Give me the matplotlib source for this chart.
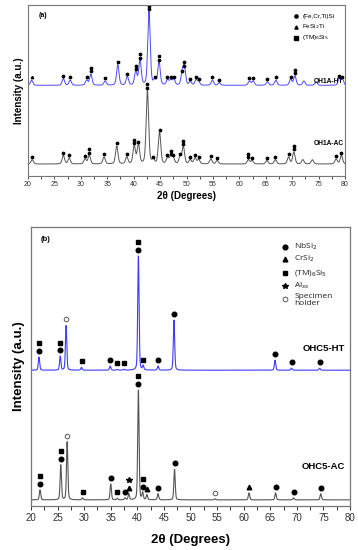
import numpy as np
import matplotlib
matplotlib.use('Agg')
import matplotlib.pyplot as plt
from matplotlib.ticker import MultipleLocator

plt.rcParams['font.family'] = ['Liberation Sans', 'DejaVu Sans']

# ---- panel (a): OH1A, peak positions (deg), heights above baseline, phase markers
a_ht_pos = [20.7, 26.7, 28.0, 31.1, 31.9, 34.6, 37.0, 38.8, 40.4, 41.2, 42.9, 44.0, 44.8,
            46.4, 47.0, 47.6, 49.2, 49.6, 50.7, 51.8, 52.3, 54.9, 56.2, 61.9, 62.6,
            65.3, 66.9, 69.7, 70.5, 72.2, 74.5, 78.9, 79.5]
a_ht_h = [3, 4, 3, 3, 6.5, 2.5, 12, 5, 8, 14.5, 43, 3, 13.5,
          3, 3, 3.5, 7, 10, 2, 3, 2, 3, 1.5, 2.5, 2.5,
          2, 3, 3.5, 5.5, 2.5, 2, 4, 3.5]
a_ht_mk = ['t', 'c', 'c', 'c', 'cc', 'c', 'c', 'c', 'cc', 'cc', 'cc', 'c', 'cs',
           'c', 'c', 'c', 'c', 'cc', 'c', 'c', 'c', 'c', 'c', 'c', 'c',
           'c', 'c', 'c', 'cc', '', '', 'c', 'c']
a_ht_base = 53.0

a_ac_pos = [20.8, 26.7, 27.8, 30.8, 31.6, 34.4, 36.8, 38.7, 40.1, 40.9, 42.6, 43.7, 44.9,
            46.4, 47.0, 47.5, 48.8, 49.4, 50.7, 51.6, 52.3, 54.6, 55.8, 61.7, 62.4,
            65.2, 66.8, 69.3, 70.3, 72.0, 73.8, 78.3, 79.3]
a_ac_h = [2.5, 5, 3.5, 3, 5, 4, 10.5, 4, 10.5, 11.5, 43, 2.5, 18.5,
          3.5, 4, 3.5, 4.5, 10, 2.5, 3.5, 2.5, 3, 2, 2.5, 2,
          2, 2.5, 4, 7, 2.5, 2.5, 3, 5]
a_ac_mk = ['c', 'c', 'c', 'c', 'cc', 'c', 'c', 'c', 'cc', 'c', 'cc', 'c', 'c',
           'c', 'cc', 'c', 'c', 'cc', 'c', 'c', 'c', 'c', 'c', 'cc', 'c',
           'c', 'c', 'c', 'cc', '', '', 'c', 'c']
a_ac_base = 7.0

# ---- panel (b): OHC5
b_ht_pos = [21.5, 25.5, 26.6, 29.5, 34.9, 36.2, 37.5, 40.2, 41.1, 43.9, 46.9, 65.9, 69.0, 74.3]
b_ht_h = [4.7, 5.0, 16, 1.0, 1.5, 0.3, 0.3, 41, 1.5, 1.5, 18, 3.6, 0.7, 0.7]
b_ht_mk = ['cs', 'cs', 'o', 's', 'c', 's', 's', 'cs', 's', 'c', 'c', 'c', 'c', 'c']
b_ht_base = 48.7

b_ac_pos = [21.7, 25.6, 26.8, 29.7, 35.0, 36.2, 37.7, 38.4, 40.2, 41.0, 41.8, 43.9, 47.0,
            54.6, 61.0, 66.0, 69.4, 74.5]
b_ac_h = [3.6, 12.5, 20.8, 0.7, 5.7, 0.5, 0.7, 2.2, 39.4, 2.5, 1.8, 2.2, 11,
          0.4, 2.5, 2.5, 0.7, 2.2]
b_ac_mk = ['cs', 'cs', 'o', 's', 'c', 's', 'c', 't*', 'cs', 'cs', 't', 'c', 'c',
           'o', 't', 'c', 'c', 'c']
b_ac_base = 2.2

tt = np.linspace(20, 80, 3000)


def pattern(pos, h, fwhm, base):
    y = np.full_like(tt, base)
    for p, a in zip(pos, h):
        g = np.exp(-4 * np.log(2) * ((tt - p) / fwhm) ** 2)
        l = 1 / (1 + 4 * ((tt - p) / fwhm) ** 2)
        y += a * (0.7 * g + 0.3 * l)
    return y


symbols = {'c': dict(marker='o', mfc='k', mec='k'),
           't': dict(marker='^', mfc='k', mec='k'),
           's': dict(marker='s', mfc='k', mec='k'),
           'o': dict(marker='o', mfc='white', mec='#555555', mew=0.7),
           '*': dict(marker='*', mfc='k', mec='k')}


def add_markers(ax, pos, h, mk, base, gap, step, ms):
    for p, a, code in zip(pos, h, mk):
        for i, c in enumerate(code):
            st = dict(symbols[c])
            s = ms * 1.3 if c == '*' else ms
            ax.plot(p, base + a + gap + i * step, ls='none', ms=s, **st)


fig = plt.figure(figsize=(3.58, 5.5), dpi=100)

# ================= panel (a)
ax1 = fig.add_axes([0.078, 0.68, 0.886, 0.311])
ax1.plot(tt, pattern(a_ht_pos, a_ht_h, 0.55, a_ht_base), color='#4a4aff', lw=0.7)
ax1.plot(tt, pattern(a_ac_pos, a_ac_h, 0.55, a_ac_base), color='#555555', lw=0.7)
add_markers(ax1, a_ht_pos, a_ht_h, a_ht_mk, a_ht_base, 1.6, 2.0, 1.7)
add_markers(ax1, a_ac_pos, a_ac_h, a_ac_mk, a_ac_base, 1.6, 2.0, 1.7)
ax1.set_xlim(20, 80)
ax1.set_ylim(0, 100)
ax1.set_yticks([])
ax1.xaxis.set_major_locator(MultipleLocator(5))
ax1.xaxis.set_minor_locator(MultipleLocator(2.5))
ax1.tick_params(axis='x', which='both', direction='out', length=2, width=0.6,
                labelsize=5, pad=1.5, colors='#333333')
for s in ax1.spines.values():
    s.set_color('#777777')
    s.set_linewidth(0.8)
ax1.set_xlabel('2θ (Degrees)', fontsize=7, fontweight='bold', labelpad=2)
ax1.set_ylabel('Intensity (a.u.)', fontsize=7, fontweight='bold', labelpad=3)
ax1.text(0.035, 0.93, '(a)', transform=ax1.transAxes, fontsize=5, fontweight='bold')
ax1.text(0.995, 0.55, 'OH1A-HT', transform=ax1.transAxes, fontsize=4.8,
         fontweight='bold', ha='right', va='center')
ax1.text(0.995, 0.19, 'OH1A-AC', transform=ax1.transAxes, fontsize=4.8,
         fontweight='bold', ha='right', va='center')
leg_a = ['(Fe,Cr,Ti)Si', 'FeSi$_2$Ti', '(TM)$_6$Si$_5$']
leg_a_mk = ['c', 't', 's']
for i, (lab, c) in enumerate(zip(leg_a, leg_a_mk)):
    yy = 0.935 - i * 0.063
    ax1.plot(0.845, yy, transform=ax1.transAxes, ls='none', ms=2.3, **symbols[c])
    ax1.text(0.865, yy, lab, transform=ax1.transAxes, fontsize=4.6, va='center')

# ================= panel (b)
ax2 = fig.add_axes([0.0866, 0.08, 0.891, 0.507])
ax2.plot(tt, pattern(b_ht_pos, b_ht_h, 0.3, b_ht_base), color='#3c3cff', lw=0.8)
ax2.plot(tt, pattern(b_ac_pos, b_ac_h, 0.3, b_ac_base), color='#555555', lw=0.8)
add_markers(ax2, b_ht_pos, b_ht_h, b_ht_mk, b_ht_base, 2.2, 2.7, 3.3)
add_markers(ax2, b_ac_pos, b_ac_h, b_ac_mk, b_ac_base, 2.2, 2.7, 3.3)
ax2.set_xlim(20, 80)
ax2.set_ylim(0, 100)
ax2.set_yticks([])
ax2.xaxis.set_major_locator(MultipleLocator(5))
ax2.xaxis.set_minor_locator(MultipleLocator(2.5))
ax2.tick_params(axis='x', which='both', direction='out', length=3, width=0.7,
                labelsize=7, pad=2, colors='#333333')
for s in ax2.spines.values():
    s.set_color('#777777')
    s.set_linewidth(0.9)
ax2.set_xlabel('2θ (Degrees)', fontsize=9.5, fontweight='bold', labelpad=8)
ax2.set_ylabel('Intensity (a.u.)', fontsize=9.5, fontweight='bold', labelpad=4)
ax2.text(0.03, 0.955, '(b)', transform=ax2.transAxes, fontsize=5.5, fontweight='bold',
         va='center')
ax2.text(0.985, 0.565, 'OHC5-HT', transform=ax2.transAxes, fontsize=6.8,
         fontweight='bold', ha='right', va='center')
ax2.text(0.985, 0.14, 'OHC5-AC', transform=ax2.transAxes, fontsize=6.8,
         fontweight='bold', ha='right', va='center')
leg_b = ['NbSi$_2$', 'CrSi$_2$', '(TM)$_6$Si$_5$', 'Al$_{ss}$', 'Specimen\nholder']
leg_b_mk = ['c', 't', 's', '*', 'o']
leg_b_y = [0.929, 0.886, 0.836, 0.79, 0.742]
for lab, c, yy in zip(leg_b, leg_b_mk, leg_b_y):
    s = 4.2 if c == '*' else 3.4
    ax2.plot(0.795, yy, transform=ax2.transAxes, ls='none', ms=s, **symbols[c])
    two = '\n' in lab
    ax2.text(0.825, yy + (0.022 if two else 0), lab, transform=ax2.transAxes, fontsize=6,
             va='top' if two else 'center', family=['Open Sans', 'DejaVu Sans'],
             color='#222222', linespacing=1.1)

fig.savefig('out.png', dpi=100)
